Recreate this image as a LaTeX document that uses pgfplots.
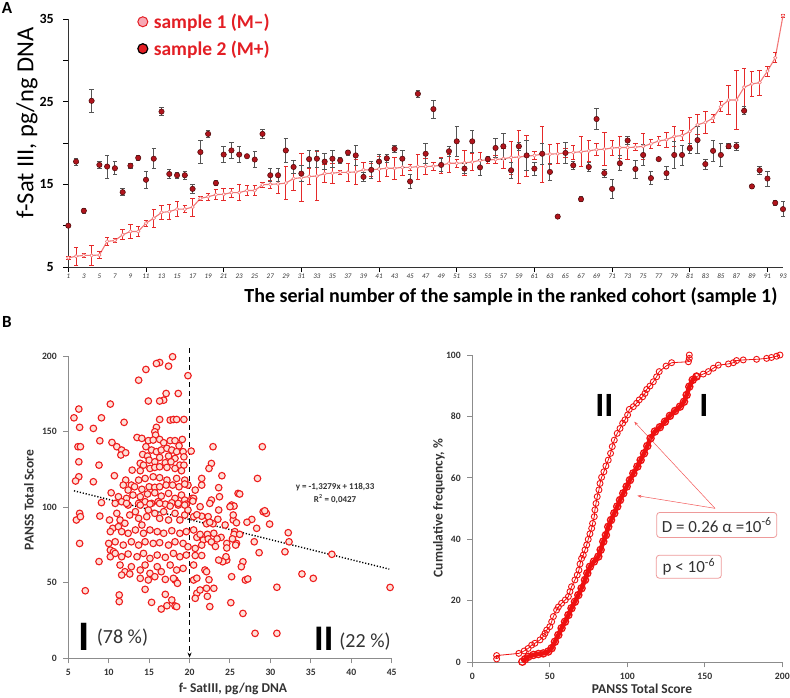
\documentclass[border=0pt]{standalone}
\usepackage{pgfplots}
\pgfplotsset{compat=1.18}
\usepackage{pgfplotstable}
\usepackage{fontspec}
\setmainfont{Carlito}
\usetikzlibrary{arrows.meta}
\definecolor{sOneLine}{HTML}{F27878}
\definecolor{sOneErr}{HTML}{E52A2A}
\definecolor{sTwoFill}{HTML}{B0141C}
\definecolor{sTwoDraw}{HTML}{4A0808}
\definecolor{sTwoErr}{HTML}{555555}
\definecolor{legred}{HTML}{E31E24}
\definecolor{legpink}{HTML}{F7A8B4}
\definecolor{scFill}{HTML}{FDE0D8}
\definecolor{scDraw}{HTML}{EE1C1C}
\definecolor{cdfred}{HTML}{EE1111}
\definecolor{axgray}{HTML}{8C8C8C}
\definecolor{boxred}{HTML}{EE9A9A}
\definecolor{lblgray}{HTML}{333333}

\pgfplotstableread{
n y e
1 6.1 0.2
2 6.3 1.1
3 6.4 0.2
4 6.4 1.2
5 6.45 0.4
6 8.1 0.5
7 8.2 0.2
8 8.9 0.6
9 9.3 0.8
10 9.3 0.65
11 10.3 0.35
12 10.9 1.1
13 11.6 0.8
14 11.7 0.9
15 12.0 0.9
16 12.0 0.45
17 12.25 1.1
18 13.3 0.3
19 13.5 0.4
20 13.75 0.6
21 13.8 0.7
22 14.0 0.55
23 14.0 1.0
24 14.25 0.6
25 14.25 0.6
26 14.95 0.3
27 15.0 0.5
28 15.05 1.2
29 15.15 2.0
30 15.7 1.4
31 15.8 2.9
32 15.95 1.0
33 16.0 3.0
34 16.3 1.1
35 16.35 1.2
36 16.45 0.2
37 16.45 1.1
38 16.5 1.5
39 16.75 0.9
40 16.75 0.8
41 16.85 1.5
42 16.95 1.0
43 16.95 1.3
44 17.05 1.0
45 17.05 0.4
46 17.15 1.5
47 17.15 1.0
48 17.2 0.5
49 17.3 1.0
50 17.55 1.1
51 17.55 0.5
52 17.6 1.5
53 17.7 1.0
54 17.9 1.0
55 17.95 0.4
56 18.0 0.5
57 18.1 1.2
58 18.25 2.0
59 18.3 3.2
60 18.4 2.5
61 18.5 0.5
62 18.65 3.4
63 18.65 1.2
64 18.7 1.2
65 18.8 0.5
66 18.85 0.8
67 18.95 1.8
68 19.05 1.3
69 19.2 0.7
70 19.25 2.0
71 19.4 0.9
72 19.45 1.3
73 19.45 1.4
74 19.5 0.4
75 19.6 1.6
76 19.9 0.5
77 20.25 0.5
78 20.4 0.9
79 20.8 1.2
80 20.9 0.6
81 21.4 1.7
82 22.2 1.2
83 22.5 1.3
84 23.0 0.5
85 24.4 0.6
86 25.2 1.8
87 25.2 3.6
88 26.75 2.3
89 27.15 1.5
90 27.3 1.5
91 28.7 0.6
92 30.3 0.6
93 35.4 0.2
}\sampleone

\pgfplotstableread{
n y e
1 10.0 0
2 17.75 0.4
3 11.8 0.3
4 25.1 1.4
5 17.35 0.4
6 17.15 1.4
7 16.95 0.8
8 14.05 0.4
9 17.25 0.3
10 18.2 0.3
11 15.55 1.0
12 18.1 1.2
13 23.8 0.5
14 16.25 0.5
15 16.1 0.4
16 16.1 0.5
17 14.45 0.5
18 18.9 1.4
19 21.1 0.4
20 15.15 0.3
21 18.6 1.0
22 19.1 1.0
23 18.6 1.0
24 18.4 0
25 18.0 1.0
26 21.1 0.6
27 16.1 0.8
28 16.1 0.8
29 19.1 1.5
30 17.1 0.8
31 16.3 1.0
32 18.05 1.0
33 18.1 1.0
34 17.75 1.0
35 18.1 1.0
36 17.9 0.4
37 18.85 0.3
38 18.5 1.2
39 15.9 0.6
40 16.75 1.0
41 17.75 0.9
42 18.15 0.5
43 19.3 0.4
44 18.1 1.0
45 15.35 0.8
46 25.95 0.4
47 18.7 1.2
48 24.1 1.1
49 17.35 0.8
50 19.0 0.6
51 20.2 1.8
52 16.9 0.6
53 20.2 1.3
54 17.05 1.0
55 18.05 0.3
56 19.4 1.2
57 19.6 1.6
58 16.7 1.0
59 19.6 0.5
60 18.5 1.8
61 16.9 0.8
62 18.7 1.3
63 16.5 1.0
64 11.1 0.2
65 18.8 1.3
66 17.3 0.5
67 13.2 0.3
68 17.1 0.5
69 22.9 1.3
70 16.35 0.5
71 14.45 1.1
72 17.55 0.9
73 20.3 0.5
74 16.85 1.1
75 18.55 1.3
76 15.75 0.8
77 18.05 0
78 16.35 0.8
79 18.55 1.6
80 18.55 1.2
81 19.35 0.6
82 20.35 1.6
83 17.45 0.6
84 19.05 1.3
85 18.55 1.4
86 19.6 0.3
87 19.6 0.5
88 23.9 0.5
89 14.75 0.3
90 16.7 0.5
91 15.7 0.9
92 12.75 0.3
93 12.0 0.9
}\sampletwo

\pgfplotstableread{
x y
17.9 199.5
16.3 195.7
15.9 195
17.4 193.3
14.6 191.1
13.7 184
19.8 187
17.1 175.2
16.8 170.8
16.3 170.2
14.9 170.2
18.6 175.2
10.2 168.2
6.3 164.9
5.7 159.1
9.1 159.1
6.4 152.8
8.1 152.1
11.9 156.1
16.3 158
17.6 157.6
18 158
18.4 158
19.3 158
15.9 152.8
15.7 149.9
15.8 147.7
6.2 140
6.5 140
13.5 146.1
14.1 145.5
8.9 143.9
10.4 142.8
11 140
11.6 137.8
11.5 134.5
12.1 136
14.9 144
15.5 144.4
16.3 144.8
16.8 142.6
17.6 144
18.2 144
18.7 140.6
19.1 144.8
14.6 140
15.3 137.8
15.9 136.7
16.5 137.8
17.2 138.9
17.8 137.8
18.4 136.7
19.2 136.7
20.2 137.1
14.2 134.9
14.8 133.8
16.3 132.9
17.4 133.8
18.2 132.2
19.3 133.3
6.3 130
8.8 127.8
13.9 129
14.3 127.8
15 131.1
15.7 130
17 129.4
17.7 130
18.8 127.8
19.3 127.8
12.9 124.5
13.9 124.1
15.1 125.6
15.7 126.3
16.3 126.7
17.2 126.3
18.2 125.6
19 124.1
6.3 120.1
5.9 117.3
8.1 116.8
10.7 120.8
12.1 117.9
12.8 114.6
13.7 117.9
14.5 119
15.5 120.1
16.3 119.5
17.2 117.9
18.4 119
19.4 117.9
19.8 114.6
11.8 114.6
12.4 111.3
13.2 113.5
14.1 111.8
15 113.5
15.7 113.1
16.3 113.5
17.1 114.6
17.9 114.6
18.7 113.5
19.4 115.3
10.3 109.5
11.2 106.9
12.2 105.8
13 108
13.9 106.9
14.8 108.7
15.7 109.5
16.5 107.3
17.4 109.1
18.2 105.8
19 108
19.4 104.7
20.3 105.8
20.7 111.3
21.5 119
21.5 114.6
22.9 140
22.7 128.9
22.4 125.6
24 120.8
23.6 112.9
23.7 106.9
22.7 104.7
25.2 101.4
26 109.1
10.8 102.5
11.6 103.6
12.4 101.4
13.7 102.5
14.5 103.6
15.3 102.5
16.1 103.6
17 102
17.8 102.9
18.6 101.4
19.6 102
20.5 105.8
29 140
28.4 119
26.2 108.7
25.5 100.7
9.1 103
6.4 95.9
6 91.5
6.5 93.7
8.9 94.1
10.1 91.5
10.5 86
10.2 83.8
6.4 76
8.8 64
7.1 44.7
10 76
10.2 71.6
10.6 70.5
10.2 67.2
11 95.9
11.4 91.5
11.2 87.1
12 89.3
12.6 94.8
13.3 97
13.7 92.6
14.1 88.2
14.7 93.7
14.9 98.1
15.7 95.9
16.3 92.6
16.8 97
17.4 91.5
18.2 95.9
18.8 91.5
19.4 94.8
19.8 98.1
12.2 102.5
13.9 101.4
15.1 102.1
16.3 102.5
17.6 100.7
18.6 102.5
19.4 101.4
11.6 83.8
12.4 82.7
13.3 84.9
14.3 82.7
15.1 84.9
16 83.8
16.8 82.7
17.8 84.4
18.8 82.7
19.6 83.8
10.8 77.1
11.8 74.9
12.8 77.1
13.7 74.9
14.5 77.1
15.5 76
16.3 76.5
17.4 74.9
18.2 77.1
19.2 76
19.8 73.8
10.8 69.4
11.6 67.2
12.4 69
13.5 67.2
14.3 69.4
15.1 66.1
16 68.3
17 66.8
18 69.4
18.8 67.2
19.6 68.3
11.4 61.7
12 57.3
12.8 60.6
13.9 58.4
14.5 61.7
15.1 56.2
16 60.6
16.5 57.3
17.6 61.7
18.4 58.4
19.2 59.5
11.6 55.1
12.6 55.8
13.9 52.9
14.9 51.8
15.7 54
17 52.2
18.2 51.8
18.5 49.6
14.5 45.6
11.3 41.9
11.3 37.5
15.3 37
16.5 32.6
17.2 34.8
17.8 38.6
18.2 34.6
18.4 34.2
17 42.3
18 52.9
21.3 100.3
20.5 93.7
20.5 84.9
22.3 93.7
22.5 102.5
23.6 98.1
25 100.3
25.4 91.5
24.4 88.2
23 82.7
21.7 78.2
21.5 74.9
20.7 72.7
20.5 61.7
21.9 58.4
22.1 57.3
20.5 51.8
20.9 43
21.3 45.2
22.1 46.3
23 46.3
22.5 34.2
20.7 39.7
25.1 36.8
25.2 54
24.6 65
24.5 67.2
24.1 63.9
25.8 76
25.6 83.8
22.4 52
21.5 68
20.7 68
20.9 80
21.3 82
22.2 82
22.3 79
22.7 77
22.1 89
22.9 89
21.5 94
20.9 95
20.4 104
22.5 90
23.5 92
25.5 82
26.2 82
25.3 79
23.6 65
24.6 76
24.6 73
23.9 80
23.4 79
23.2 74
20.9 53
22.2 41
25.4 94.8
25.8 89.7
25.7 74.9
26.6 29.7
28.1 16.5
30.8 16.5
30.8 47
26.6 63.9
26.4 60.6
26.9 51.8
27.2 52.5
27.7 91.9
27.1 90
29.1 97
29.5 95.9
29.3 97.6
29.9 88.8
28.3 86
28.6 69.9
28 77.1
32.2 83.1
32.3 77.1
31.8 70.5
37.6 68.8
33.9 55.8
35.3 52.9
44.8 46.9
}\scatterdata

\pgfplotstableread{
x y
15.7 1.1
15.7 2.2
30 2.9
33.5 3.7
36 4.5
38.3 5.6
40.4 6.2
43.7 7.3
45.8 8.4
46.9 9.4
48 10.5
50 11.6
51.2 13.2
52.3 14.9
54.4 17
55.5 18
57.6 19.2
60 20.3
62 21.4
63 23
64 24.6
66.2 26.8
67.7 28.4
68.8 30
69.5 32
70.5 33.8
71.6 34.9
72.7 36.6
73.8 38.2
74.8 40
75.9 41.8
77 43.6
77.6 45.2
78.7 47.4
79.1 49.6
79.8 51.7
80.6 53.9
81.7 56.1
82.4 58.2
83.4 60.2
84.9 62
86.2 63.9
87.7 65.8
89.2 68
90.3 70.2
91.6 72.3
93.5 74.5
95.3 76.1
97 77.8
98.5 78.9
100.2 80.5
101.3 82.3
103.9 83.2
106 84.3
107.7 85.4
109.9 86.4
111.4 87.5
112.5 88.8
114.6 89.9
116.8 91.3
118.9 92.9
120.6 94.6
125 96.4
128.6 97.5
139.4 97.8
140 98.9
140 100
}\cdftwo

\pgfplotstableread{
x y
32.3 0.2
34 1
36.1 1.8
39.4 2.4
42.6 2.7
45.8 2.9
49 3.5
51.2 4.6
53.3 6.7
55.5 8.9
57.6 11.1
59.8 13.2
62 15.4
64 17.6
66.2 19.7
68.4 21.9
70.5 24.1
72.7 26.8
74.2 29
75.9 31.1
78.5 32.8
81.3 34.4
82.8 36.6
84.5 39.3
86.2 41.4
87.7 44.1
89.5 46.3
91.6 48.5
93.5 50.7
95.3 52.8
97.4 55
99.6 57.2
101.7 59.3
103.9 61.5
106.5 63.7
108.6 65.8
110.8 68
112.9 70.4
115 72.9
117.8 75.1
121 76.5
124.3 78.3
127.5 80.2
130.8 81.8
134 83.2
136.6 84.8
138.3 87
140 89.7
142.2 91.9
144.7 93
}\cdfonea

\pgfplotstableread{
x y
144.7 93
149 93.8
152.3 94.6
155.5 95.7
158.7 96.7
165.2 97.1
168.4 97.5
170.5 98.2
174.8 98.4
183.4 98.6
189.9 98.9
193 99.2
196.3 99.6
198.5 100
}\cdfoneb

\begin{document}
\begin{tikzpicture}
\useasboundingbox (0,0) rectangle (790pt,-698pt);

% panel letters and outer labels
\node[font=\fontsize{17}{17}\selectfont\bfseries] at (7pt,-8pt) {A};
\node[font=\fontsize{17}{17}\selectfont\bfseries] at (7pt,-322pt) {B};
\node[rotate=90, font=\fontsize{24.5}{24.5}\selectfont] at (27pt,-123pt) {f-Sat III, pg/ng DNA};
\node[font=\fontsize{20}{20}\selectfont\bfseries] at (511pt,-297pt) {The serial number of the sample in the ranked cohort (sample 1)};

\node[rotate=90, font=\fontsize{13.5}{13.5}\selectfont\bfseries, text=lblgray] at (29pt,-500pt) {PANSS Total Score};
\node[font=\fontsize{13.5}{13.5}\selectfont\bfseries, text=lblgray] at (233pt,-689pt) {f- SatIII, pg/ng DNA};
\node[rotate=90, font=\fontsize{13.5}{13.5}\selectfont\bfseries, text=lblgray] at (439pt,-508pt) {Cumulative frequency, \%};
\node[font=\fontsize{13.5}{13.5}\selectfont\bfseries, text=lblgray] at (642pt,-689pt) {PANSS Total Score};

% ---------------- Panel A ----------------
\begin{axis}[
  at={(68.3pt,-267pt)}, anchor=south west,
  scale only axis, width=714.7pt, height=248pt,
  xmin=1, xmax=93, ymin=5, ymax=35,
  clip=false,
  axis line style={draw=none},
  tick pos=left, tick align=outside,
  /pgf/number format/assume math mode=true,
  ytick={5,10,...,35}, yticklabels={5,,15,,25,,35},
  yticklabel style={font=\fontsize{14}{14}\selectfont\bfseries, xshift=-6pt},
  xtick={1,11,...,91}, xticklabels={},
  extra x ticks={1,3,...,93},
  extra x tick style={major tick length=0pt, xticklabel style={font=\fontsize{7}{7}\selectfont\itshape, text=lblgray, yshift=-3pt}},
  tick style={black, line width=0.8pt},
  major tick length=5pt,
  legend style={at={(0.097,1.03)}, anchor=north west, draw=none, fill=none,
    font=\fontsize{19.5}{21}\selectfont\bfseries, text=legred, row sep=7pt,
    inner sep=0pt},
  legend cell align=left,
]
\draw[black!80, line width=1pt] (rel axis cs:0,1) -- (rel axis cs:0,0) -- (rel axis cs:1,0);
\addlegendimage{only marks, mark=*, mark size=5pt, mark options={fill=legpink, draw=legred, line width=1pt}}
\addlegendentry{\hspace{4pt}sample 1 (M–)}
\addlegendimage{only marks, mark=*, mark size=5pt, mark options={fill=legred, draw=black, line width=1.2pt}}
\addlegendentry{\hspace{4pt}sample 2 (M+)}

\addplot[forget plot, color=sOneLine, line width=1.1pt, mark=*, mark size=1.7pt,
  mark options={fill=white, draw=sOneLine, line width=0.6pt},
  error bars/.cd, y dir=both, y explicit,
  error bar style={sOneErr, line width=0.9pt},
  error mark options={rotate=90, sOneErr, mark size=2.2pt, line width=0.8pt}]
  table[x=n, y=y, y error=e] {\sampleone};

\addplot[forget plot, only marks, mark=*, mark size=2.7pt,
  mark options={fill=sTwoFill, draw=sTwoDraw, line width=0.5pt},
  error bars/.cd, y dir=both, y explicit,
  error bar style={sTwoErr, line width=0.9pt},
  error mark options={rotate=90, sTwoErr, mark size=2.2pt, line width=0.8pt}]
  table[x=n, y=y, y error=e] {\sampletwo};
\end{axis}

% ---------------- Panel B left ----------------
\begin{axis}[
  at={(68.3pt,-658.3pt)}, anchor=south west,
  scale only axis, width=323.4pt, height=302.3pt,
  xmin=5, xmax=45, ymin=0, ymax=200,
  clip=false,
  axis line style={draw=none},
  tick pos=left, tick align=outside,
  /pgf/number format/assume math mode=true,
  xtick={5,10,...,45}, ytick={0,50,...,200},
  ticklabel style={font=\fontsize{9.7}{9.7}\selectfont\bfseries, text=lblgray},
  yticklabel style={xshift=-3pt},
  xticklabel style={yshift=-2pt},
  tick style={axgray, line width=1pt},
  major tick length=5pt,
]
\draw[axgray, line width=1.2pt] (rel axis cs:0,1) -- (rel axis cs:0,0) -- (rel axis cs:1,0);
\addplot[only marks, mark=*, mark size=3.3pt,
  mark options={fill=scFill, draw=scDraw, line width=1.1pt}]
  table[x=x, y=y] {\scatterdata};
\addplot[black, line width=1.4pt, dash pattern=on 1.2pt off 1.8pt] coordinates {(5.7,110.8) (44.7,59)};
\addplot[black, line width=1.2pt, dash pattern=on 5pt off 3.5pt, -{Stealth[length=5pt,width=4pt]}] coordinates {(20,205) (20,0.5)};
\node[font=\fontsize{9}{9}\selectfont\bfseries, text=lblgray] at (axis cs:38,113.5) {y = -1,3279x + 118,33};
\node[font=\fontsize{9}{9}\selectfont\bfseries, text=lblgray] at (axis cs:38,105.2) {R\textsuperscript{2} = 0,0427};
\node[font=\fontsize{42}{42}\selectfont\bfseries] at (axis cs:6.9,14.3) {I};
\node[font=\fontsize{20}{20}\selectfont, text=lblgray] at (axis cs:11.7,13.5) {(78 \%)};
\node[font=\fontsize{36}{36}\selectfont\bfseries] at (axis cs:36.6,13.2) {II};
\node[font=\fontsize{20}{20}\selectfont, text=lblgray] at (axis cs:41.7,11.2) {(22 \%)};
\end{axis}

% ---------------- Panel B right ----------------
\begin{axis}[
  at={(472.3pt,-662.3pt)}, anchor=south west,
  scale only axis, width=310pt, height=307.3pt,
  xmin=0, xmax=200, ymin=0, ymax=100,
  clip=false,
  axis line style={draw=none},
  tick pos=left, tick align=outside,
  /pgf/number format/assume math mode=true,
  xtick={0,50,...,200}, ytick={0,20,...,100},
  ticklabel style={font=\fontsize{9.7}{9.7}\selectfont\bfseries, text=lblgray},
  yticklabel style={xshift=-3pt},
  xticklabel style={yshift=-2pt},
  tick style={axgray, line width=1pt},
  major tick length=5pt,
]
\draw[axgray, line width=1.2pt] (rel axis cs:0,1) -- (rel axis cs:0,0) -- (rel axis cs:1,0);
\addplot[cdfred, line width=0.8pt, mark=o, mark size=3pt, mark options={line width=0.9pt}]
  table[x=x, y=y] {\cdftwo};
\addplot[cdfred, line width=4.5pt, mark=o, mark size=3.6pt, mark options={line width=1.3pt}]
  table[x=x, y=y] {\cdfonea};
\addplot[cdfred, line width=0.8pt, mark=o, mark size=3pt, mark options={line width=0.9pt}]
  table[x=x, y=y] {\cdfoneb};
\draw[cdfred!70, line width=0.5pt, -{Stealth[length=4pt,width=3pt]}] (axis cs:156.6,50.1) -- (axis cs:104.5,78.3);
\draw[cdfred!70, line width=0.5pt, -{Stealth[length=4pt,width=3pt]}] (axis cs:156.6,50.1) -- (axis cs:106.5,54.2);
\node[font=\fontsize{34}{34}\selectfont\bfseries] at (axis cs:85.2,83.7) {II};
\node[font=\fontsize{34}{34}\selectfont\bfseries] at (axis cs:149.5,83.7) {I};
\node[draw=boxred, line width=0.8pt, rounded corners=3pt, fill=white,
  minimum width=120pt, minimum height=25pt, inner sep=2pt,
  font=\fontsize{17}{17}\selectfont, text=lblgray] at (axis cs:157.7,44.7) {D = 0.26 α =10\textsuperscript{-6}};
\node[draw=boxred, line width=0.8pt, rounded corners=3pt, fill=white,
  minimum width=65pt, minimum height=23pt, inner sep=2pt,
  font=\fontsize{17}{17}\selectfont, text=lblgray] at (axis cs:139.7,31.1) {p < 10\textsuperscript{-6}};
\end{axis}
\end{tikzpicture}
\end{document}
